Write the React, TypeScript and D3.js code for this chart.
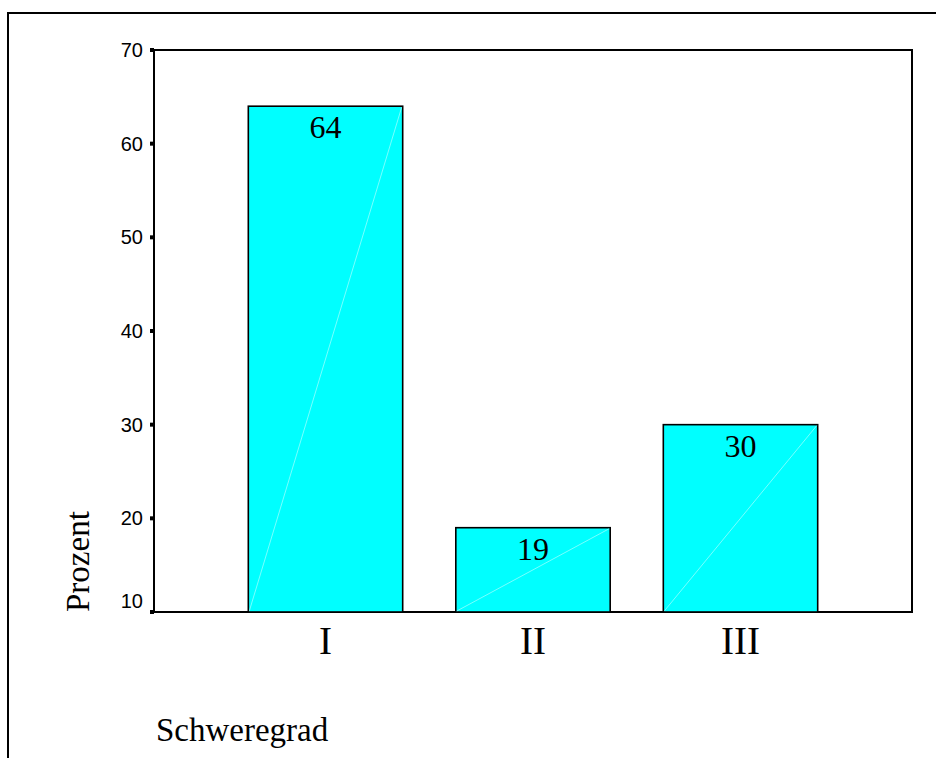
import React from "react";
import * as d3 from "d3";

// Anteil je Schweregrad in Prozent
const categories: string[] = ["I", "II", "III"];
const percentages: number[] = [64, 19, 30];
const yTicks: number[] = [10, 20, 30, 40, 50, 60, 70];
const yDomain: [number, number] = [10, 70];

const W = 936;
const H = 758;
const plot = { left: 154, top: 50, right: 912, bottom: 612 };

export default function App() {
  const x = d3
    .scaleBand<string>()
    .domain(categories)
    .range([plot.left, plot.right])
    .paddingInner(0.256)
    .paddingOuter(0.4545);
  const y = d3.scaleLinear().domain(yDomain).range([plot.bottom, plot.top]);

  const serif = "'Liberation Serif', 'Times New Roman', serif";
  const sans = "'Liberation Sans', Arial, sans-serif";

  return (
    <svg
      width={W}
      height={H}
      style={{ position: "absolute", left: 0, top: 0, background: "#fff" }}
    >
      {/* outer frame (left and top edges) */}
      <path d={`M8,${H + 2} L8,13 L${W + 2},13`} fill="none" stroke="#000" strokeWidth={2} />

      {/* plot frame */}
      <rect
        x={plot.left}
        y={plot.top}
        width={plot.right - plot.left}
        height={plot.bottom - plot.top}
        fill="none"
        stroke="#000"
        strokeWidth={2}
      />

      {/* bars */}
      {categories.map((c, i) => {
        const x0 = x(c)!;
        const bw = x.bandwidth();
        const yTop = y(percentages[i]);
        const yBase = y(yDomain[0]);
        return (
          <g key={c}>
            <rect
              x={x0}
              y={yTop}
              width={bw}
              height={yBase - yTop}
              fill="#00ffff"
              stroke="#000"
              strokeWidth={1.6}
            />
            <line
              x1={x0 + 1}
              y1={yBase - 1}
              x2={x0 + bw - 1}
              y2={yTop + 1}
              stroke="#c8ffff"
              strokeWidth={0.6}
            />
            <text
              x={x0 + bw / 2}
              y={yTop + 32}
              textAnchor="middle"
              fontFamily={serif}
              fontSize={32}
              fill="#000"
            >
              {percentages[i]}
            </text>
          </g>
        );
      })}

      {/* y axis ticks and labels */}
      {yTicks.map((t) => (
        <g key={t}>
          <rect x={plot.left - 4} y={y(t) - 2} width={4} height={4} fill="#000" />
          <text
            x={plot.left - 11}
            y={t === yDomain[0] ? y(t) - 4 : y(t) + 7}
            textAnchor="end"
            fontFamily={sans}
            fontSize={20}
            fill="#000"
          >
            {t}
          </text>
        </g>
      ))}

      {/* category labels */}
      {categories.map((c) => (
        <text
          key={c}
          x={x(c)! + x.bandwidth() / 2}
          y={654}
          textAnchor="middle"
          fontFamily={serif}
          fontSize={39}
          fill="#000"
        >
          {c}
        </text>
      ))}

      {/* axis titles */}
      <text
        transform={`translate(89,612) rotate(-90)`}
        textAnchor="start"
        fontFamily={serif}
        fontSize={33}
        fill="#000"
      >
        Prozent
      </text>
      <text x={156} y={741} fontFamily={serif} fontSize={33} fill="#000">
        Schweregrad
      </text>
    </svg>
  );
}
